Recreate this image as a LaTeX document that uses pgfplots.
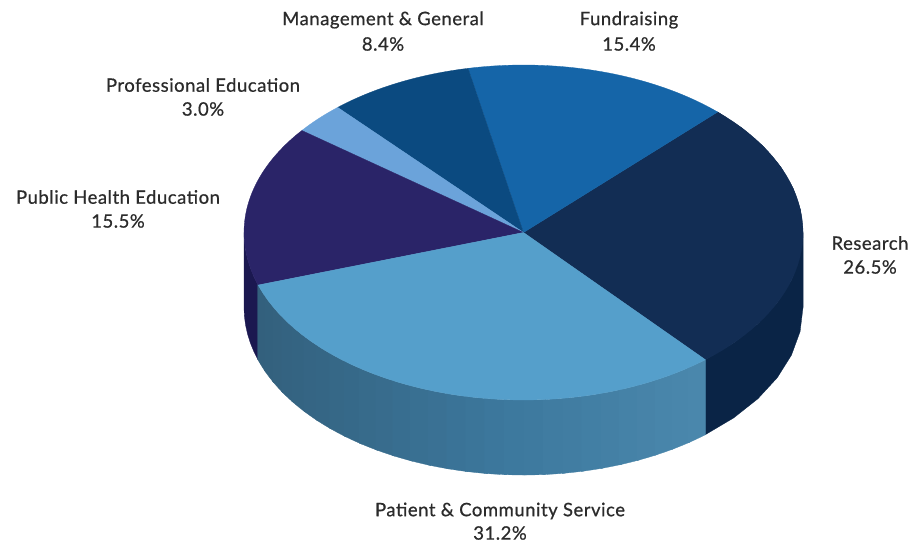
\documentclass[border=0pt]{standalone}
\usepackage{pgfplots}
\pgfplotsset{compat=1.18}
\usepackage{fontspec}
\setmainfont{Lato}[LetterSpace=2.8,BoldFont={Lato},BoldFeatures={FakeBold=0.7}]
\definecolor{research}{HTML}{122D54}
\definecolor{researchwall}{HTML}{0A2446}
\definecolor{fundraising}{HTML}{1565A8}
\definecolor{management}{HTML}{0B4A80}
\definecolor{profedu}{HTML}{6BA3DA}
\definecolor{publichealth}{HTML}{2A2468}
\definecolor{publicwall}{HTML}{1B1850}
\definecolor{patient}{HTML}{559FCB}
\definecolor{patientwallA}{HTML}{33607D}
\definecolor{patientwallB}{HTML}{3C789D}
\definecolor{patientwallC}{HTML}{4B88AD}
\definecolor{labeltext}{HTML}{2B2B2B}
\tikzset{lab/.style={font=\fontsize{18.5}{20}\selectfont\bfseries, text=labeltext, inner sep=0pt, anchor=center}}

% Geometry of the disc, in the axis' coordinates
\def\pieCX{523.5}\def\pieCY{232.5}\def\pieRX{279.5}\def\pieRY{167.5}\def\pieDepth{75}

% Appends an elliptical arc to the global point list \pts
\newcommand\arcpoints[4]{% from, to, steps, vertical offset
  \foreach \i in {0,...,#3}{%
    \pgfmathsetmacro\ang{#1+(#2-(#1))*\i/#3}%
    \pgfmathsetmacro\px{\pieCX+\pieRX*cos(\ang)}%
    \pgfmathsetmacro\py{\pieCY-\pieRY*sin(\ang)+#4}%
    \xdef\pts{\pts (\px,\py)}%
  }%
}
% One slice of the top face; the running angle advances by the share
\newcommand\topslice[2]{% percent, colour
  \pgfmathsetmacro\angEnd{\angStart+3.6*#1}%
  \gdef\pts{}%
  \xdef\pts{(\pieCX,\pieCY)}%
  \arcpoints{\angStart}{\angEnd}{40}{0}%
  \edef\doplot{\noexpand\addplot[fill=#2,draw=#2,line width=0.3pt] coordinates {\pts} -- cycle;}%
  \doplot
  \xdef\angStart{\angEnd}%
}
% One strip of the side wall
\newcommand\wallstrip[3]{% from, to, colour
  \gdef\pts{}%
  \arcpoints{#1}{#2}{6}{0}%
  \arcpoints{#2}{#1}{6}{\pieDepth}%
  \edef\doplot{\noexpand\addplot[fill=#3,draw=#3,line width=0.3pt] coordinates {\pts} -- cycle;}%
  \doplot
}

\begin{document}
\begin{tikzpicture}
\path[use as bounding box] (0,0) rectangle (920pt,543pt);
\begin{axis}[
  scale only axis, width=920pt, height=543pt,
  xmin=0, xmax=920, ymin=0, ymax=543, y dir=reverse,
  hide axis, clip=false,
]
% Side wall: public health, then the shaded patient band, then research
\wallstrip{180}{198.4}{publicwall}
\wallstrip{310.5}{360}{researchwall}
\wallstrip{360}{406}{researchwall}
\foreach \aa in {198,202,...,306}{%
  \pgfmathsetmacro\bb{min(\aa+4.6,310.6)}%
  \pgfmathsetmacro\xfrac{(\pieRX*cos(\aa+2)+265)/447}%
  \pgfmathsetmacro\mixA{min(100,100*\xfrac/0.55)}%
  \pgfmathsetmacro\mixB{max(0,100*(\xfrac-0.55)/0.45)}%
  \ifdim\xfrac pt<0.55pt
    \edef\wallcol{patientwallB!\mixA!patientwallA}%
  \else
    \edef\wallcol{patientwallC!\mixB!patientwallB}%
  \fi
  \edef\call{\noexpand\wallstrip{\aa}{\bb}{\wallcol}}%
  \call
}
% Top face, one slice per share, counter-clockwise from Research
\xdef\angStart{310.6}
\topslice{26.5}{research}
\topslice{15.4}{fundraising}
\topslice{8.4}{management}
\topslice{3.0}{profedu}
\topslice{15.5}{publichealth}
\topslice{31.2}{patient}
% Labels
\node[lab] at (axis cs:383,20) {Management \& General};
\node[lab] at (axis cs:383,44) {8.4\%};
\node[lab] at (axis cs:629,20) {Fundraising};
\node[lab] at (axis cs:629,44) {15.4\%};
\node[lab] at (axis cs:203,85) {Professional Education};
\node[lab] at (axis cs:203,109) {3.0\%};
\node[lab] at (axis cs:118,197) {Public Health Education};
\node[lab] at (axis cs:118,221) {15.5\%};
\node[lab] at (axis cs:870,243) {Research};
\node[lab] at (axis cs:870,267) {26.5\%};
\node[lab] at (axis cs:500,511) {Patient \& Community Service};
\node[lab] at (axis cs:500,533) {31.2\%};
\end{axis}
\end{tikzpicture}
\end{document}
